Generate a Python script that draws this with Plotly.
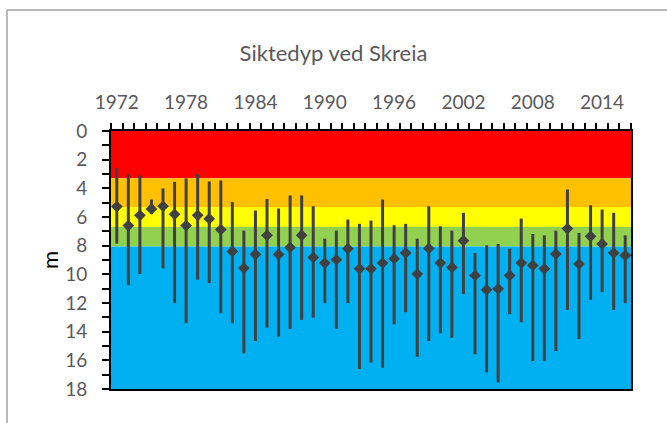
import plotly.graph_objects as go

years = list(range(1972, 2017))
mean_depth = [5.27, 6.60, 5.88, 5.44, 5.25, 5.81, 6.60, 5.88, 6.13, 6.88,
              8.40, 9.56, 8.61, 7.28, 8.61, 8.12, 7.28, 8.82, 9.21, 8.98,
              8.21, 9.61, 9.61, 9.21, 8.91, 8.51, 9.98, 8.19, 9.21, 9.52,
              7.65, 10.08, 11.08, 11.01, 10.08, 9.21, 9.38, 9.61, 8.58, 6.81,
              9.28, 7.35, 7.88, 8.51, 8.68]
min_depth = [2.57, 2.99, 3.10, 4.78, 4.01, 3.55, 3.31, 3.01, 3.52, 3.45,
             4.95, 6.95, 5.55, 4.74, 5.41, 4.50, 4.50, 5.25, 7.51, 6.95,
             6.18, 6.48, 6.25, 4.78, 6.58, 6.48, 7.51, 5.25, 6.65, 6.95,
             5.71, 8.51, 7.98, 7.88, 8.21, 6.11, 7.18, 7.28, 6.95, 4.08,
             7.11, 5.18, 5.48, 5.71, 7.28]
max_depth = [7.86, 10.75, 9.98, 5.79, 9.59, 12.01, 13.41, 10.38, 10.61, 12.71,
             13.41, 15.51, 14.65, 13.72, 14.35, 13.81, 13.18, 13.02, 12.01, 13.81,
             12.01, 16.61, 16.16, 16.52, 13.48, 12.64, 15.75, 14.65, 14.11, 14.42,
             11.38, 15.58, 16.84, 17.54, 12.78, 13.34, 16.05, 16.05, 15.35, 12.48,
             14.51, 11.78, 11.24, 12.48, 12.01]

# Class bands (depth limits in m) and colours
band_limits = [0, 3.3, 5.3, 6.7, 8.05, 18]
band_colors = ["#FF0000", "#FFC000", "#FFFF00", "#92D050", "#00B0F0"]

year_ticks = list(range(1972, 2015, 6))
depth_ticks = list(range(0, 19, 2))

err_plus = [mx - m for mx, m in zip(max_depth, mean_depth)]
err_minus = [m - mn for m, mn in zip(mean_depth, min_depth)]

fig = go.Figure()
fig.add_trace(go.Scatter(
    x=years, y=mean_depth, mode="markers",
    marker=dict(symbol="diamond", size=9, color="#404040"),
    error_y=dict(type="data", array=err_plus, arrayminus=err_minus,
                 symmetric=False, width=0, thickness=3, color="#404040"),
    showlegend=False, hoverinfo="x+y",
))

shapes = []
for i, c in enumerate(band_colors):
    shapes.append(dict(type="rect", xref="paper", yref="y", x0=0, x1=1,
                       y0=band_limits[i], y1=band_limits[i + 1],
                       fillcolor=c, line=dict(width=0), layer="below"))
# outer chart frame (partially cropped in the reference)
shapes.append(dict(type="line", xref="paper", yref="paper",
                   x0=-0.2, x1=1.2, y0=1.469, y1=1.469,
                   line=dict(color="#A0A0A0", width=1.5)))
shapes.append(dict(type="line", xref="paper", yref="paper",
                   x0=-0.2, x1=-0.2, y0=1.469, y1=-0.2,
                   line=dict(color="#A0A0A0", width=1.5)))

font_fam = "Lato, 'Open Sans', sans-serif"

fig.update_layout(
    width=667, height=423,
    margin=dict(l=111, r=36, t=131, b=34, autoexpand=False),
    paper_bgcolor="white", plot_bgcolor="white",
    shapes=shapes,
    title=dict(text="Siktedyp ved Skreia", x=0.5, xanchor="center",
               y=1 - 53 / 423, yanchor="middle",
               font=dict(family=font_fam, size=22, color="#595959")),
    font=dict(family=font_fam, size=19, color="#595959"),
    xaxis=dict(
        side="top", range=[1971.5, 2016.5], automargin=False,
        tickmode="array", tickvals=year_ticks,
        ticks="", ticklabelstandoff=12,
        showgrid=False, zeroline=False,
        showline=True, linecolor="black", linewidth=2, mirror=True,
        minor=dict(tickmode="linear", tick0=1971.5, dtick=1,
                   ticks="outside", ticklen=6, tickwidth=1.5,
                   tickcolor="black", showgrid=False),
        tickfont=dict(family=font_fam, size=19, color="#595959"),
    ),
    yaxis=dict(
        range=[18, 0], tickmode="array", tickvals=depth_ticks, automargin=False,
        ticks="outside", ticklen=7, tickwidth=1.5, tickcolor="black",
        ticklabelstandoff=11,
        showgrid=False, zeroline=False,
        showline=True, linecolor="black", linewidth=2, mirror=True,
        minor=dict(tickmode="linear", tick0=0, dtick=1,
                   ticks="outside", ticklen=7, tickwidth=1.5,
                   tickcolor="black", showgrid=False),
        title=dict(text="m", standoff=0,
                   font=dict(family=font_fam, size=22, color="black")),
        tickfont=dict(family=font_fam, size=19, color="#595959"),
    ),
)

fig.write_html("out.html", config={"displayModeBar": False},
               post_script="document.body.style.margin='0';")
